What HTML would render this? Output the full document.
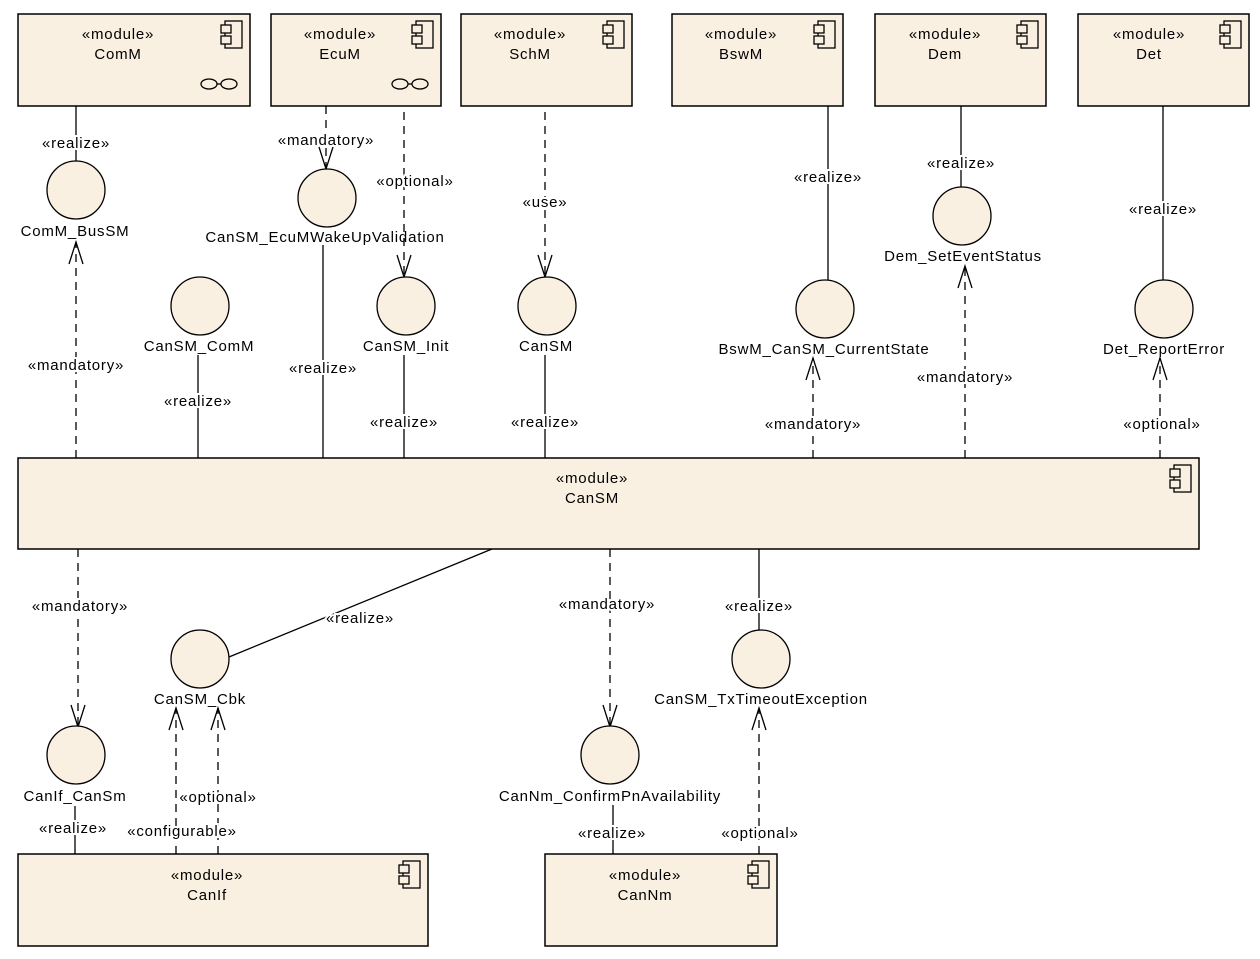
<!DOCTYPE html>
<html><head><meta charset="utf-8"><style>
html,body{margin:0;padding:0;background:#fff;}
svg text{font-family:"Liberation Sans",Arial,sans-serif;font-size:15px;letter-spacing:0.8px;fill:#000;}
</style></head><body>
<svg width="1260" height="954" viewBox="0 0 1260 954" xmlns="http://www.w3.org/2000/svg">
<defs>
<g id="ic" fill="#faf0e1" stroke="#000" stroke-width="1.3">
<rect x="-25" y="7" width="17" height="27"/>
<rect x="-29" y="11" width="10" height="8"/>
<rect x="-29" y="22" width="10" height="8"/>
</g>
<g id="port" fill="none" stroke="#000" stroke-width="1.3">
<ellipse cx="-33" cy="0" rx="8" ry="5"/><ellipse cx="-13" cy="0" rx="8" ry="5"/><line x1="-25" y1="0" x2="-21" y2="0"/>
</g>
</defs>
<g fill="#faf0e1" stroke="#000" stroke-width="1.5">
<rect x="18" y="14" width="232" height="92"/>
<rect x="271" y="14" width="170" height="92"/>
<rect x="461" y="14" width="171" height="92"/>
<rect x="672" y="14" width="171" height="92"/>
<rect x="875" y="14" width="171" height="92"/>
<rect x="1078" y="14" width="171" height="92"/>
<rect x="18" y="458" width="1181" height="91"/>
<rect x="18" y="854" width="410" height="92"/>
<rect x="545" y="854" width="232" height="92"/>
</g>
<use href="#ic" x="250" y="14"/><use href="#ic" x="441" y="14"/><use href="#ic" x="632" y="14"/>
<use href="#ic" x="843" y="14"/><use href="#ic" x="1046" y="14"/><use href="#ic" x="1249" y="14"/>
<use href="#ic" x="1199" y="458"/><use href="#ic" x="428" y="854"/><use href="#ic" x="777" y="854"/>
<use href="#port" x="242" y="84"/><use href="#port" x="433" y="84"/>
<g text-anchor="middle">
<text x="118" y="39">«module»</text><text x="118" y="59">ComM</text>
<text x="340" y="39">«module»</text><text x="340" y="59">EcuM</text>
<text x="530" y="39">«module»</text><text x="530" y="59">SchM</text>
<text x="741" y="39">«module»</text><text x="741" y="59">BswM</text>
<text x="945" y="39">«module»</text><text x="945" y="59">Dem</text>
<text x="1149" y="39">«module»</text><text x="1149" y="59">Det</text>
<text x="592" y="483">«module»</text><text x="592" y="503">CanSM</text>
<text x="207" y="880">«module»</text><text x="207" y="900">CanIf</text>
<text x="645" y="880">«module»</text><text x="645" y="900">CanNm</text>
</g>
<g stroke="#000" stroke-width="1.3" fill="none">
<line x1="76" y1="106" x2="76" y2="161"/>
<line x1="323" y1="245" x2="323" y2="458"/>
<line x1="198" y1="355" x2="198" y2="458"/>
<line x1="404" y1="355" x2="404" y2="458"/>
<line x1="545" y1="355" x2="545" y2="458"/>
<line x1="828" y1="106" x2="828" y2="280"/>
<line x1="961" y1="106" x2="961" y2="187"/>
<line x1="1163" y1="106" x2="1163" y2="280"/>
<line x1="492" y1="549" x2="229" y2="657"/>
<line x1="759" y1="549" x2="759" y2="630"/>
<line x1="75" y1="806" x2="75" y2="854"/>
<line x1="613" y1="805" x2="613" y2="854"/>
</g>
<g stroke="#000" stroke-width="1.3" fill="none" stroke-dasharray="8,6">
<line x1="76" y1="458" x2="76" y2="242"/>
<line x1="326" y1="106" x2="326" y2="169"/>
<line x1="404" y1="112" x2="404" y2="277"/>
<line x1="545" y1="112" x2="545" y2="277"/>
<line x1="813" y1="458" x2="813" y2="358"/>
<line x1="965" y1="458" x2="965" y2="266"/>
<line x1="1160" y1="458" x2="1160" y2="358"/>
<line x1="78" y1="549" x2="78" y2="727"/>
<line x1="610" y1="549" x2="610" y2="727"/>
<line x1="176" y1="854" x2="176" y2="708"/>
<line x1="218" y1="854" x2="218" y2="708"/>
<line x1="759" y1="854" x2="759" y2="708"/>
</g>
<g stroke="#000" stroke-width="1.3" fill="none">
<polyline points="69,264 76,242 83,264"/>
<polyline points="319,147 326,169 333,147"/>
<polyline points="397,255 404,277 411,255"/>
<polyline points="538,255 545,277 552,255"/>
<polyline points="806,380 813,358 820,380"/>
<polyline points="958,288 965,266 972,288"/>
<polyline points="1153,380 1160,358 1167,380"/>
<polyline points="71,705 78,727 85,705"/>
<polyline points="603,705 610,727 617,705"/>
<polyline points="169,730 176,708 183,730"/>
<polyline points="211,730 218,708 225,730"/>
<polyline points="752,730 759,708 766,730"/>
</g>
<g fill="#faf0e1" stroke="#000" stroke-width="1.3">
<circle cx="76" cy="190" r="29"/><circle cx="327" cy="198" r="29"/>
<circle cx="200" cy="306" r="29"/><circle cx="406" cy="306" r="29"/>
<circle cx="547" cy="306" r="29"/><circle cx="825" cy="309" r="29"/>
<circle cx="962" cy="216" r="29"/><circle cx="1164" cy="309" r="29"/>
<circle cx="76" cy="755" r="29"/><circle cx="200" cy="659" r="29"/>
<circle cx="610" cy="755" r="29"/><circle cx="761" cy="659" r="29"/>
</g>
<g text-anchor="middle">
<text x="75" y="236">ComM_BusSM</text>
<text x="325" y="242">CanSM_EcuMWakeUpValidation</text>
<text x="199" y="351">CanSM_ComM</text>
<text x="406" y="351">CanSM_Init</text>
<text x="546" y="351">CanSM</text>
<text x="824" y="354">BswM_CanSM_CurrentState</text>
<text x="963" y="261">Dem_SetEventStatus</text>
<text x="1164" y="354">Det_ReportError</text>
<text x="75" y="801">CanIf_CanSm</text>
<text x="200" y="704">CanSM_Cbk</text>
<text x="610" y="801">CanNm_ConfirmPnAvailability</text>
<text x="761" y="704">CanSM_TxTimeoutException</text>
</g>
<g text-anchor="middle" stroke="#fff" stroke-width="4" paint-order="stroke">
<text x="76" y="148">«realize»</text>
<text x="76" y="370">«mandatory»</text>
<text x="326" y="145">«mandatory»</text>
<text x="415" y="186">«optional»</text>
<text x="323" y="373">«realize»</text>
<text x="198" y="406">«realize»</text>
<text x="404" y="427">«realize»</text>
<text x="545" y="207">«use»</text>
<text x="545" y="427">«realize»</text>
<text x="828" y="182">«realize»</text>
<text x="813" y="429">«mandatory»</text>
<text x="961" y="168">«realize»</text>
<text x="965" y="382">«mandatory»</text>
<text x="1163" y="214">«realize»</text>
<text x="1162" y="429">«optional»</text>
<text x="80" y="611">«mandatory»</text>
<text x="360" y="623">«realize»</text>
<text x="607" y="609">«mandatory»</text>
<text x="759" y="611">«realize»</text>
<text x="73" y="833">«realize»</text>
<text x="182" y="836">«configurable»</text>
<text x="218" y="802">«optional»</text>
<text x="612" y="838">«realize»</text>
<text x="760" y="838">«optional»</text>
</g>
</svg>
</body></html>
